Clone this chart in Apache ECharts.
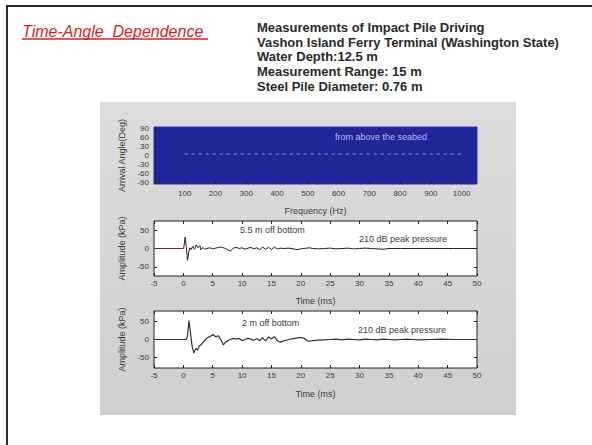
<!DOCTYPE html>
<html>
<head>
<meta charset="utf-8">
<script src="https://cdn.jsdelivr.net/npm/echarts@6/dist/echarts.min.js"></script>
<style>
html,body{margin:0;padding:0;background:#fff;}
#main{width:592px;height:445px;}
</style>
</head>
<body>
<div id="main"></div>
<script>
// tick labels
var freqTicks = [100, 200, 300, 400, 500, 600, 700, 800, 900, 1000];
var angleTicks = [-90, -60, -30, 0, 30, 60, 90];
var timeTicks = [-5, 0, 5, 10, 15, 20, 25, 30, 35, 40, 45, 50];
var ampTicks = [-50, 0, 50];

// arrival angle vs frequency (top panel, dashed)
var angleFreq = [100, 200, 300, 400, 500, 600, 700, 800, 900, 1000];
var angleVal = [5, 5, 5, 5, 5, 5, 5, 5, 5, 5];

// 5.5 m off bottom
var preTime55 = [-5, 0];
var preAmp55 = [0, 0];
var time55 = [0, 0.1, 0.3, 0.5, 0.7, 0.9, 1.1, 1.3, 1.6, 1.9,
    2.2, 2.5, 2.8, 3.0, 3.3, 3.6, 4.0, 4.5, 5.0, 5.5,
    6.0, 6.5, 7.0, 7.5, 8.0, 8.5, 9.0, 9.5, 10, 10.5,
    11, 11.5, 12, 12.5, 13, 13.5, 14, 14.5, 15, 15.5,
    16, 16.5, 17, 18, 19, 19.5, 20, 21, 21.5, 22,
    23, 24, 25, 26, 27, 28, 29, 30, 31, 32,
    33, 34, 34.5, 35, 37, 40, 43, 46, 50];
var amp55 = [0, 5, 31, 5, -32, -12, 2, -3, 6, -2,
    10, 2, 8, -4, 3, -2, 0, 2, -1, 1,
    3, 4, 1, -3, -7, 1, 3, 0, 2, -2,
    1, 3, -1, 2, -3, 4, -2, 3, -3, 4,
    -1, 1, 0, 1, -2, -3, -1, 1, 2, 0,
    -1, 0, 1, -1, 0, 1, -1, 0, 1, 0,
    -1, -2, -1, 0, 0, 0, 0, 0, 0];

// 2 m off bottom
var time2 = [-5, 0.5, 0.7, 0.95, 1.2, 1.5, 1.8, 2.1, 2.4, 2.7,
    3.0, 3.5, 4.0, 4.5, 5.0, 5.5, 6.0, 6.5, 6.8, 7.2,
    7.6, 8.0, 8.5, 9.0, 9.5, 10, 10.5, 11, 11.5, 12,
    12.5, 13, 13.5, 14, 14.5, 15, 15.5, 16, 16.5, 17,
    17.5, 18, 18.5, 19, 19.5, 20, 20.5, 21, 21.5, 22,
    23, 24, 25, 26, 27, 28, 29, 30, 31, 32,
    33, 34, 35, 36, 37, 38, 39, 40, 42, 44,
    46, 48, 50];
var amp2 = [0, 0, 10, 53, 20, -20, -38, -25, -30, -18,
    -15, -5, 4, 8, 14, 8, 10, -4, -15, -8,
    -3, 0, 3, 1, 3, -3, 0, 3, 1, -2,
    2, -3, 5, -4, 7, 2, 8, -3, -8, -4,
    -2, 0, 2, 3, 5, 5, 4, -3, -5, -3,
    -2, -1, 0, 1, -1, 1, 0, -1, 1, 0,
    -1, 1, 0, -1, 0, 1, 0, -1, 0, 1,
    0, 0, 0];

function pairs(xs, ys) {
    return xs.map(function (x, i) { return [x, ys[i]]; });
}

var FONT = "'Liberation Sans', Arial, sans-serif";
var txt = '#3c3c3c';

function axis(grid, pos, min, max, ticks, name, gap, showLabel, margin) {
    return {
        type: 'value', gridIndex: grid, position: pos, min: min, max: max,
        name: name || '', nameLocation: 'middle', nameGap: gap || 0,
        nameTextStyle: {color: txt, fontSize: 9, fontFamily: FONT},
        axisLine: {show: false, onZero: false},
        axisTick: {show: true, inside: true, length: 3, lineStyle: {color: '#222'}, customValues: ticks},
        axisLabel: {show: showLabel !== false, customValues: ticks, color: txt, fontSize: 8, fontFamily: FONT,
            margin: margin || 5, formatter: function (v) { return String(v); }},
        splitLine: {show: false}
    };
}

var myChart = echarts.init(document.getElementById('main'), null, {renderer: 'svg'});

var option = {
    animation: false,
    grid: [
        {left: 154, top: 127, width: 323, height: 57, show: true, backgroundColor: '#20269a', borderColor: '#2c3296', borderWidth: 1},
        {left: 154, top: 221, width: 323, height: 55, show: true, backgroundColor: '#fff', borderColor: '#222', borderWidth: 1},
        {left: 154, top: 311, width: 323, height: 57, show: true, backgroundColor: '#fff', borderColor: '#222', borderWidth: 1}
    ],
    xAxis: [
        axis(0, 'bottom', 0, 1050, freqTicks, 'Frequency (Hz)', 22),
        axis(1, 'bottom', -5, 50, timeTicks, 'Time (ms)', 20, true, 3),
        axis(1, 'top', -5, 50, timeTicks, '', 0, false),
        axis(2, 'bottom', -5, 50, timeTicks, 'Time (ms)', 21, true, 3),
        axis(2, 'top', -5, 50, timeTicks, '', 0, false)
    ],
    yAxis: [
        axis(0, 'left', -95, 95, angleTicks, 'Arrival Angle(Deg)', 23),
        axis(1, 'left', -75, 75, ampTicks, 'Amplitude (kPa)', 23),
        axis(1, 'right', -75, 75, ampTicks, '', 0, false),
        axis(2, 'left', -80, 80, ampTicks, 'Amplitude (kPa)', 23),
        axis(2, 'right', -80, 80, ampTicks, '', 0, false)
    ],
    graphic: [
        {type: 'rect', z: -10, shape: {x: 100, y: 102, width: 416, height: 313},
            style: {fill: new echarts.graphic.LinearGradient(0, 0, 0, 1, [
                {offset: 0, color: '#dcdcdc'}, {offset: 1, color: '#cfcfcf'}])}},
        {type: 'line', shape: {x1: 6, y1: 6, x2: 592, y2: 6}, style: {stroke: '#2a2a2a', lineWidth: 2}},
        {type: 'line', shape: {x1: 7, y1: 6, x2: 7, y2: 445}, style: {stroke: '#2a2a2a', lineWidth: 2}},
        {type: 'text', x: 22, y: 31, style: {text: 'Time-Angle  Dependence', fill: '#e3211c',
            font: 'italic 16px ' + FONT, verticalAlign: 'middle'}},
        {type: 'line', shape: {x1: 22, y1: 39, x2: 208, y2: 39}, style: {stroke: '#e3211c', lineWidth: 1.5}},
        {type: 'text', x: 257, y: 20, style: {
            text: 'Measurements of Impact Pile Driving\nVashon Island Ferry Terminal (Washington State)\nWater Depth:12.5 m\nMeasurement Range: 15 m\nSteel Pile Diameter: 0.76 m',
            fill: '#2a2a2a', font: 'bold 13px ' + FONT, lineHeight: 14.7}},
        {type: 'text', x: 335, y: 137, style: {text: 'from above the seabed', fill: '#b9bde6', font: '9px ' + FONT, verticalAlign: 'middle'}},
        {type: 'text', x: 240, y: 230, style: {text: '5.5 m off bottom', fill: txt, font: '9px ' + FONT, verticalAlign: 'middle'}},
        {type: 'text', x: 359, y: 239, style: {text: '210 dB peak pressure', fill: txt, font: '9px ' + FONT, verticalAlign: 'middle'}},
        {type: 'text', x: 242, y: 323, style: {text: '2 m off bottom', fill: txt, font: '9px ' + FONT, verticalAlign: 'middle'}},
        {type: 'text', x: 358, y: 330, style: {text: '210 dB peak pressure', fill: txt, font: '9px ' + FONT, verticalAlign: 'middle'}}
    ],
    series: [
        {type: 'line', xAxisIndex: 0, yAxisIndex: 0, data: pairs(angleFreq, angleVal), showSymbol: false,
            lineStyle: {color: '#8c90cc', width: 1, type: [3, 4]}},
        {type: 'line', xAxisIndex: 1, yAxisIndex: 1, data: pairs(preTime55, preAmp55), showSymbol: false,
            lineStyle: {color: '#8b2020', width: 1.2}},
        {type: 'line', xAxisIndex: 1, yAxisIndex: 1, data: pairs(time55, amp55), showSymbol: false,
            lineStyle: {color: '#222', width: 1}},
        {type: 'line', xAxisIndex: 3, yAxisIndex: 3, data: pairs(time2, amp2), showSymbol: false,
            lineStyle: {color: '#333', width: 1.2}}
    ]
};
myChart.setOption(option);
window.addEventListener('resize', function () { myChart.resize(); }, false);
</script>
</body>
</html>
